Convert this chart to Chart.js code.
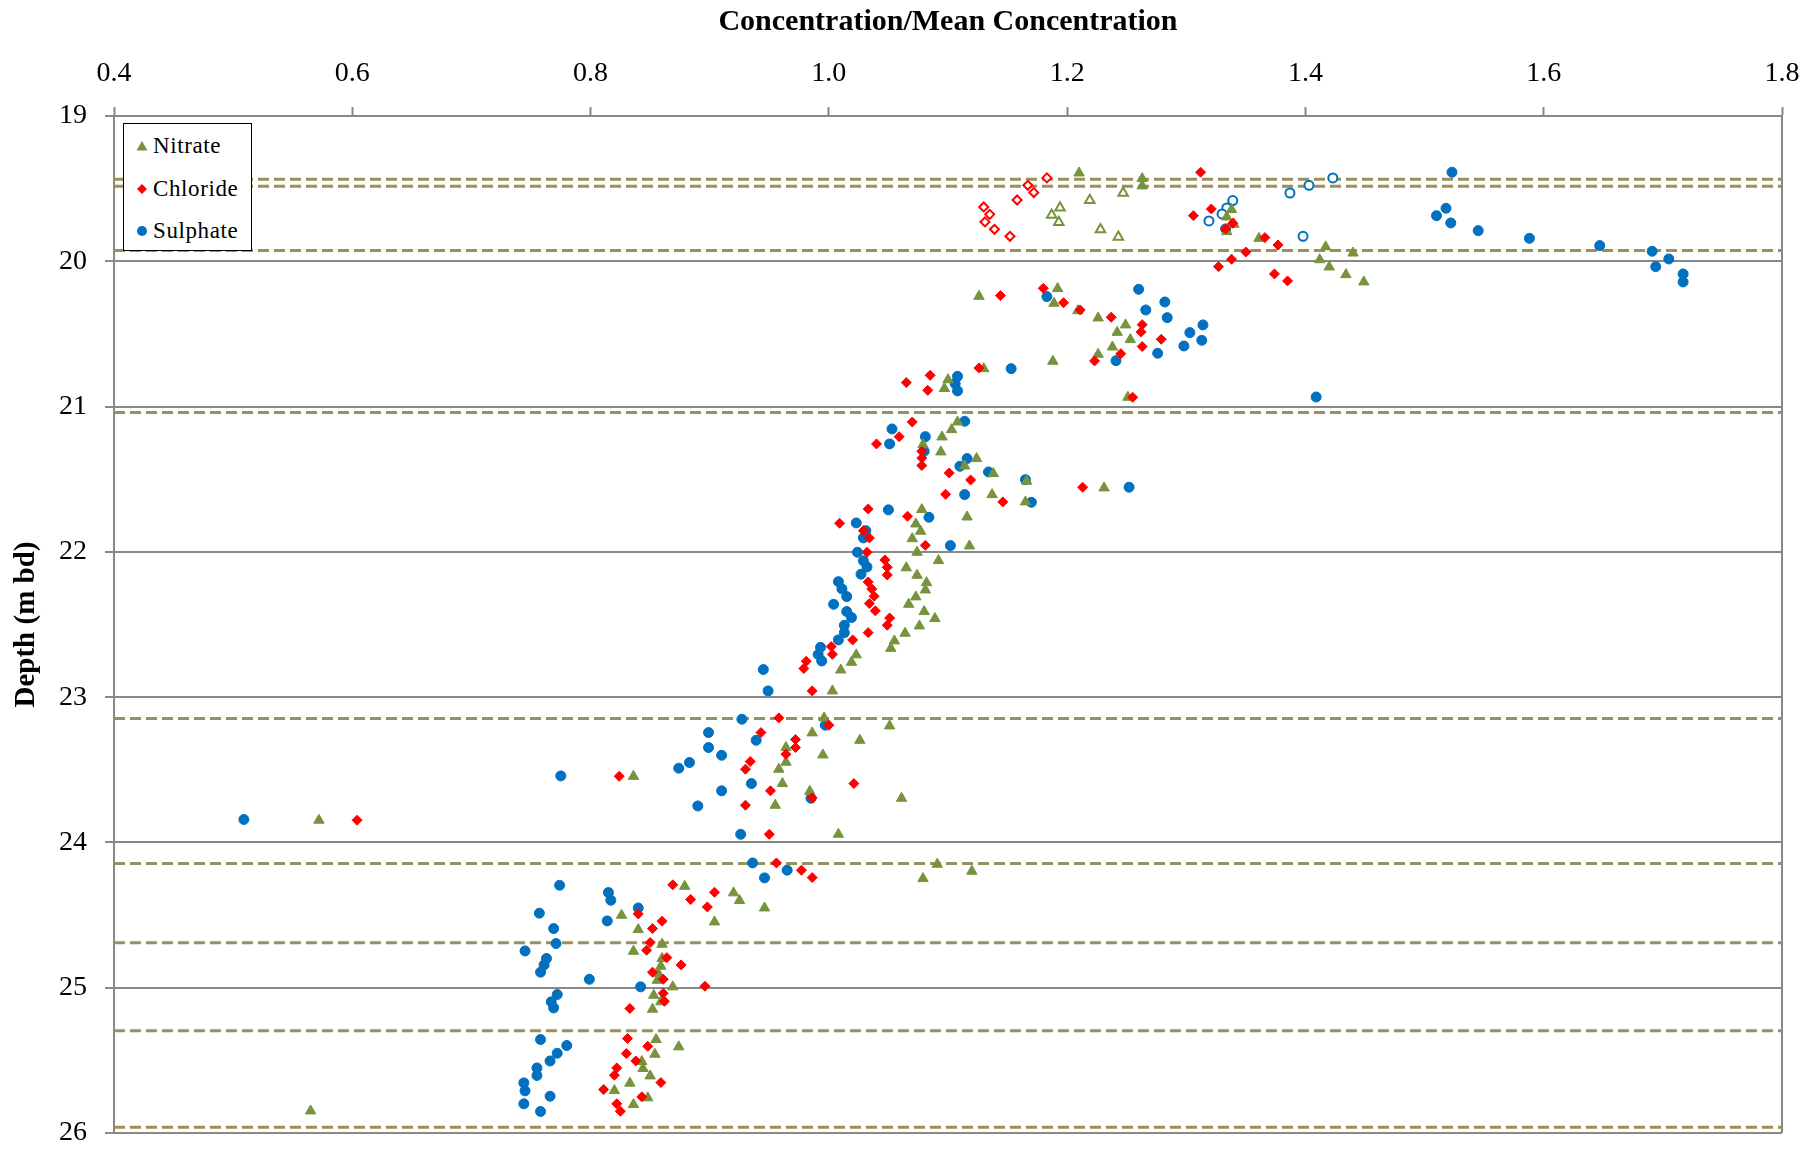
<!DOCTYPE html>
<html>
<head>
<meta charset="utf-8">
<script src="https://cdn.jsdelivr.net/npm/chart.js@4.4.1/dist/chart.umd.min.js"></script>
<style>
  body { margin: 0; background: #fff; }
  #wrap { position: relative; width: 1820px; height: 1149px; }
  #legend {
    position: absolute; left: 123px; top: 123px; width: 127px; height: 126px;
    border: 1.5px solid #000; background: #fff;
    font-family: "Liberation Serif", "Times New Roman", serif; font-size: 23px; color: #000;
  }
  .row { position: absolute; left: 12px; height: 30px; line-height: 30px; white-space: nowrap; letter-spacing: 0.6px; }
  .row svg { vertical-align: middle; margin-right: 5px; margin-top: -4px; }
</style>
</head>
<body>
<div id="wrap">
  <canvas id="chart" width="1820" height="1149"></canvas>
  <div id="legend">
    <div class="row" style="top:7px"><svg width="12" height="12"><polygon points="6,1 11.5,10.5 0.5,10.5" fill="#77933C"/></svg>Nitrate</div>
    <div class="row" style="top:50px"><svg width="12" height="12"><polygon points="6,1 11,6 6,11 1,6" fill="#FF0000"/></svg>Chloride</div>
    <div class="row" style="top:92px"><svg width="12" height="12"><circle cx="6" cy="6" r="5" fill="#0070C0"/></svg>Sulphate</div>
  </div>
</div>
<script>
// concentration / mean concentration (x) and depth in m bd (y)
const nitrateConc = [1.210,1.263,1.263,1.338,1.334,1.340,1.334,1.361,1.417,1.440,1.412,1.420,1.434,1.449,1.192,
  1.126,1.189,1.209,1.226,1.249,1.242,1.253,1.238,1.226,1.188,1.130,1.100,1.097,1.251,
  1.108,1.103,1.095,1.079,1.094,1.124,1.114,1.138,1.166,1.231,1.137,1.165,1.078,1.116,1.073,1.077,1.070,1.118,1.074,
  1.092,1.065,1.074,1.082,1.081,1.073,1.067,1.080,1.089,1.076,1.064,1.055,1.052,1.023,1.019,1.010,
  1.003,0.996,1.051,0.986,1.026,0.964,0.995,0.964,0.958,0.836,0.961,0.984,1.061,0.955,0.572,1.008,
  1.091,1.120,1.079,0.879,0.920,0.925,0.946,0.826,0.904,0.840,0.860,0.836,0.860,0.859,0.857,0.856,0.869,
  0.853,0.859,0.852,0.855,0.874,0.854,0.843,0.844,0.850,0.833,0.820,0.848,0.836,0.565];
const nitrateDepth = [19.392,19.431,19.481,19.644,19.695,19.745,19.796,19.842,19.901,19.943,19.989,20.039,20.092,20.142,20.188,
  20.241,20.289,20.340,20.390,20.438,20.489,20.539,20.590,20.640,20.688,20.739,20.815,20.876,20.936,
  21.106,21.159,21.209,21.262,21.312,21.358,21.409,21.461,21.514,21.560,21.606,21.656,21.709,21.760,21.808,21.858,21.909,21.959,22.003,
  22.060,22.110,22.161,22.212,22.262,22.310,22.361,22.411,22.459,22.510,22.560,22.613,22.664,22.709,22.760,22.813,
  22.957,23.143,23.198,23.246,23.297,23.347,23.398,23.448,23.496,23.545,23.595,23.648,23.696,23.744,23.847,23.944,
  24.150,24.198,24.249,24.302,24.347,24.400,24.451,24.501,24.547,24.600,24.701,24.749,24.799,24.852,24.903,24.949,24.994,
  25.052,25.097,25.148,25.357,25.407,25.458,25.508,25.556,25.607,25.657,25.708,25.758,25.804,25.848];

const nitrateOpenConc = [1.194,1.187,1.193,1.219,1.247,1.228,1.243];
const nitrateOpenDepth = [19.631,19.681,19.732,19.580,19.530,19.782,19.832];

const chlorideConc = [1.312,1.321,1.306,1.339,1.333,1.366,1.377,1.350,1.338,1.327,1.374,1.385,1.180,
  1.144,1.197,1.211,1.237,1.263,1.262,1.279,1.263,1.245,1.223,1.126,1.085,1.065,1.083,1.255,
  1.070,1.059,1.040,1.078,1.078,1.078,1.101,1.119,1.213,1.098,1.146,1.033,1.066,1.009,1.029,1.034,1.081,1.032,
  1.047,1.049,1.049,1.033,1.036,1.038,1.034,1.039,1.051,1.049,1.033,1.020,1.002,1.003,0.981,0.979,
  0.986,0.958,1.000,0.943,0.972,0.972,0.964,0.934,0.930,0.824,1.021,0.951,0.986,0.930,0.604,0.950,
  0.956,0.977,0.986,0.869,0.904,0.884,0.898,0.840,0.860,0.852,0.850,0.847,0.864,0.876,0.852,0.861,0.896,
  0.861,0.862,0.833,0.831,0.848,0.830,0.838,0.822,0.820,0.859,0.811,0.843,0.822,0.825];
const chlorideDepth = [19.387,19.640,19.686,19.738,19.777,19.837,19.888,19.936,19.986,20.037,20.087,20.135,20.186,
  20.236,20.285,20.335,20.385,20.436,20.486,20.537,20.587,20.636,20.686,20.734,20.785,20.835,20.888,20.936,
  21.106,21.207,21.257,21.308,21.354,21.406,21.457,21.505,21.555,21.604,21.656,21.705,21.755,21.803,21.854,21.904,21.955,22.003,
  22.056,22.106,22.159,22.207,22.255,22.306,22.356,22.406,22.455,22.505,22.556,22.606,22.652,22.705,22.753,22.803,
  22.957,23.143,23.193,23.244,23.292,23.347,23.393,23.443,23.496,23.545,23.595,23.645,23.694,23.744,23.847,23.944,
  24.141,24.191,24.242,24.292,24.343,24.393,24.444,24.492,24.542,24.593,24.689,24.742,24.793,24.843,24.893,24.942,24.990,
  25.038,25.093,25.143,25.350,25.403,25.453,25.504,25.552,25.602,25.653,25.701,25.751,25.799,25.850];

const chlorideOpenConc = [1.167,1.183,1.172,1.158,1.130,1.135,1.131,1.139,1.152];
const chlorideOpenDepth = [19.477,19.426,19.527,19.578,19.626,19.677,19.729,19.780,19.828];

const sulphateConc = [1.523,1.518,1.510,1.522,1.545,1.588,1.647,1.691,1.705,1.694,1.717,1.717,1.333,
  1.183,1.260,1.282,1.266,1.284,1.314,1.303,1.313,1.298,1.276,1.241,1.153,1.108,1.106,1.108,1.409,
  1.114,1.053,1.081,1.051,1.080,1.116,1.110,1.134,1.165,1.252,1.114,1.170,1.050,1.084,1.023,1.031,1.029,1.102,1.024,
  1.029,1.032,1.027,1.008,1.011,1.015,1.004,1.015,1.019,1.013,1.013,1.008,0.993,0.991,0.994,0.945,
  0.949,0.927,0.997,0.899,0.939,0.899,0.910,0.883,0.874,0.775,0.935,0.910,0.985,0.890,0.509,0.926,
  0.936,0.965,0.946,0.774,0.815,0.817,0.840,0.757,0.814,0.769,0.771,0.745,0.763,0.761,0.758,0.799,0.842,
  0.772,0.767,0.769,0.758,0.780,0.772,0.766,0.755,0.755,0.744,0.745,0.766,0.744,0.758];
const sulphateDepth = [19.387,19.635,19.686,19.736,19.789,19.842,19.892,19.931,19.984,20.037,20.087,20.142,19.777,
  20.243,20.193,20.280,20.335,20.388,20.438,20.491,20.544,20.583,20.633,20.684,20.739,20.792,20.842,20.892,20.934,
  21.101,21.154,21.207,21.257,21.308,21.358,21.411,21.450,21.503,21.555,21.606,21.659,21.711,21.762,21.801,21.854,21.904,21.957,22.003,
  22.062,22.104,22.154,22.205,22.255,22.308,22.361,22.411,22.452,22.505,22.556,22.606,22.657,22.707,22.751,22.810,
  22.957,23.152,23.193,23.244,23.297,23.347,23.400,23.450,23.489,23.542,23.595,23.645,23.696,23.749,23.842,23.944,
  24.141,24.191,24.244,24.295,24.345,24.398,24.451,24.487,24.540,24.593,24.696,24.747,24.799,24.843,24.893,24.942,24.994,
  25.047,25.097,25.139,25.357,25.398,25.451,25.504,25.552,25.604,25.655,25.710,25.747,25.799,25.852];

const sulphateOpenConc = [1.423,1.403,1.387,1.339,1.334,1.330,1.319,1.398];
const sulphateOpenDepth = [19.426,19.477,19.530,19.582,19.633,19.674,19.722,19.828];

// depths of the dashed horizontal lines
const boundaryDepths = [19.435,19.484,19.926,21.04,23.147,24.145,24.69,25.297,25.96];

const xTicks = [0.4,0.6,0.8,1.0,1.2,1.4,1.6,1.8];
const depthTicks = [19,20,21,22,23,24,25,26];

const GREEN = "#77933C", RED = "#FF0000", BLUE = "#0070C0", DASH = "#9A9059", GRID = "#888888";
const FONT = "'Liberation Serif', 'Times New Roman', serif";

function pts(xs, ys) {
  return xs.map((x, i) => ({ x: x, y: ys[i] }));
}

const datasets = [
  { label: "Nitrate", data: pts(nitrateConc, nitrateDepth), pointStyle: "triangle", pointRadius: 6,
    backgroundColor: GREEN, borderColor: GREEN, borderWidth: 1, order: 1 },
  { label: "Nitrate (open)", data: pts(nitrateOpenConc, nitrateOpenDepth), pointStyle: "triangle", pointRadius: 5.5,
    backgroundColor: "#fff", borderColor: GREEN, borderWidth: 2, order: 1 },
  { label: "Chloride", data: pts(chlorideConc, chlorideDepth), pointStyle: "rectRot", pointRadius: 5,
    backgroundColor: RED, borderColor: RED, borderWidth: 1, order: 0 },
  { label: "Chloride (open)", data: pts(chlorideOpenConc, chlorideOpenDepth), pointStyle: "rectRot", pointRadius: 4.5,
    backgroundColor: "#fff", borderColor: RED, borderWidth: 2, order: 0 },
  { label: "Sulphate", data: pts(sulphateConc, sulphateDepth), pointStyle: "circle", pointRadius: 5,
    backgroundColor: BLUE, borderColor: BLUE, borderWidth: 1, order: 2 },
  { label: "Sulphate (open)", data: pts(sulphateOpenConc, sulphateOpenDepth), pointStyle: "circle", pointRadius: 4.5,
    backgroundColor: "#fff", borderColor: BLUE, borderWidth: 2, order: 2 }
];

boundaryDepths.forEach(d => {
  datasets.push({
    type: "line", label: "boundary", data: [{ x: xTicks[0], y: d }, { x: xTicks[xTicks.length - 1], y: d }],
    borderColor: DASH, borderWidth: 3, borderDash: [11, 5], pointRadius: 0, order: 10
  });
});

const frame = {
  id: "frame",
  beforeDatasetsDraw(chart) {
    const a = chart.chartArea, ctx = chart.ctx;
    ctx.save();
    ctx.strokeStyle = GRID;
    ctx.lineWidth = 2;
    ctx.beginPath();
    ctx.moveTo(a.right, a.top);
    ctx.lineTo(a.right, a.bottom);
    ctx.stroke();
    ctx.restore();
  }
};

new Chart(document.getElementById("chart"), {
  type: "scatter",
  data: { datasets: datasets },
  plugins: [frame],
  options: {
    responsive: false,
    animation: false,
    layout: { padding: { left: 0, top: 0, right: 38, bottom: 16 } },
    plugins: { legend: { display: false }, tooltip: { enabled: false } },
    scales: {
      x: {
        type: "linear", position: "top", min: 0.4, max: 1.8,
        afterBuildTicks: s => { s.ticks = xTicks.map(v => ({ value: v })); },
        afterFit: s => { s.height = 116; },
        ticks: { autoSkip: false, padding: 17, color: "#000", font: { family: FONT, size: 28 },
          callback: v => Number(v).toFixed(1) },
        grid: { drawOnChartArea: false, drawTicks: true, tickLength: 9, tickColor: GRID, tickWidth: 2 },
        border: { color: GRID, width: 2 },
        title: { display: true, text: "Concentration/Mean Concentration", color: "#000",
          font: { family: FONT, size: 30, weight: "bold" }, padding: { top: 4, bottom: 0 } }
      },
      y: {
        type: "linear", reverse: true, min: 19, max: 26,
        afterBuildTicks: s => { s.ticks = depthTicks.map(v => ({ value: v })); },
        afterFit: s => { s.width = 114; s.paddingTop = 0; s.paddingBottom = 0; },
        ticks: { padding: 18, color: "#000", font: { family: FONT, size: 28 } },
        grid: { color: GRID, lineWidth: 2, tickLength: 9, tickColor: GRID, tickWidth: 2 },
        border: { color: GRID, width: 2 },
        title: { display: true, text: "Depth (m bd)", color: "#000",
          font: { family: FONT, size: 29, weight: "bold" }, padding: { top: 9, bottom: 0 } }
      }
    }
  }
});
</script>
</body>
</html>
